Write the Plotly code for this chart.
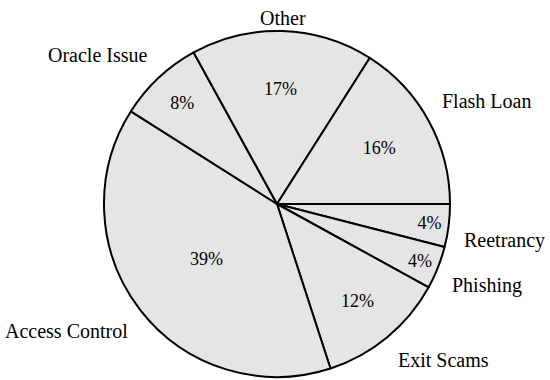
import math
import plotly.graph_objects as go

# Attack categories, listed clockwise starting at 3 o'clock
categories = ["Reetrancy", "Phishing", "Exit Scams", "Access Control",
              "Oracle Issue", "Other", "Flash Loan"]
shares = [4, 4, 12, 39, 8, 17, 16]

SERIF = "Liberation Serif, Times New Roman, serif"
FILL = "#e5e5e5"
W, H = 550, 380
CX, CY, R = 277, 204, 173   # pie centre and radius in pixels
LABEL_R = 186               # where the label's nearest corner sits

fig = go.Figure()

fig.add_trace(go.Pie(
    labels=categories,
    values=shares,
    sort=False,
    direction="clockwise",
    rotation=90,
    marker=dict(colors=[FILL] * len(shares), line=dict(color="black", width=2)),
    texttemplate="%{percent:.0%}",
    textposition="inside",
    insidetextorientation="horizontal",
    textfont=dict(family=SERIF, size=18, color="black"),
    domain=dict(x=[(CX - R) / W, (CX + R) / W],
                y=[1 - (CY + R) / H, 1 - (CY - R) / H]),
    hoverinfo="skip",
    showlegend=False,
))

# category names just outside the rim, at each slice's middle angle,
# anchored by the corner that faces the pie
total = sum(shares)
start = 0.0
for name, v in zip(categories, shares):
    mid = (start + v / 2) / total * 2 * math.pi  # clockwise from 3 o'clock
    start += v
    c, s = math.cos(mid), math.sin(mid)
    if abs(c) < 0.2:
        xanchor, yanchor = "center", "middle"
    else:
        xanchor = "left" if c > 0 else "right"
        yanchor = "top" if s > 0 else "bottom"
    fig.add_annotation(
        x=(CX + LABEL_R * c) / W, y=1 - (CY + LABEL_R * s) / H,
        xref="paper", yref="paper",
        text=name, showarrow=False,
        xanchor=xanchor, yanchor=yanchor,
        font=dict(family=SERIF, size=20, color="black"),
    )

fig.update_layout(
    width=W,
    height=H,
    margin=dict(l=0, r=0, t=0, b=0),
    paper_bgcolor="white",
    plot_bgcolor="white",
)

# drop the browser's default body margin so the figure sits at the page corner
fig.write_html("out.html", config={"displayModeBar": False},
               post_script="document.body.style.margin = '0';")
